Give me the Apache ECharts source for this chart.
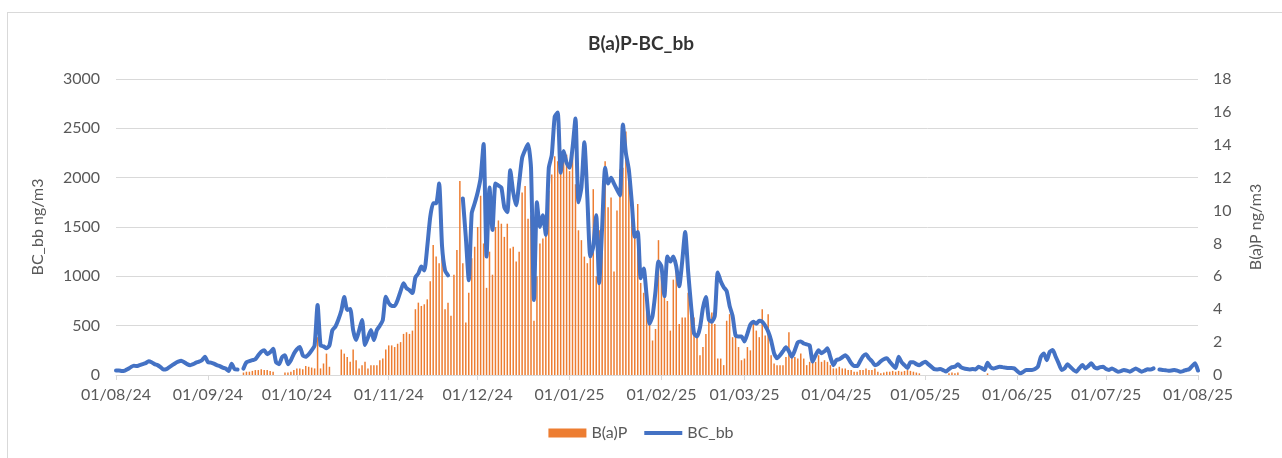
<!DOCTYPE html>
<html>
<head>
<meta charset="utf-8">
<title>B(a)P-BC_bb</title>
<script src="https://cdn.jsdelivr.net/npm/echarts@6/dist/echarts.min.js"></script>
<style>
  html, body { margin: 0; padding: 0; background: #ffffff; overflow: hidden; }
  #frame { position: absolute; left: 7px; top: 12px; width: 1300px; height: 500px; border: 1px solid #d9d9d9; box-sizing: border-box; }
  #chart { position: absolute; left: 0; top: 0; width: 1282px; height: 458px; }
</style>
</head>
<body>
<div id="frame"></div>
<div id="chart"></div>
<script>
// daily values, 01/08/24 .. 01/08/25
// BC_bb ng/m3 (left axis)
const bcAug24 = [45,45,40,45,60,80,95,90,100,110,120,140,130,110,100,80,55,60,80,100,120,135,145,130,110,100,110,125,135,150,185];
const bcSep24 = [130,125,115,100,90,75,65,40,115,60,55,null,65,130,140,150,160,200,235,250,210,230,265,130,110,180,200,110,150,215];
const bcOct24 = [260,285,200,185,210,250,300,710,300,290,270,300,455,490,560,650,790,660,670,455,354,450,557,304,380,455,354,455,500,557,792];
const bcNov24 = [730,700,700,760,850,930,880,860,830,990,1030,1100,1060,1300,1600,1740,1740,1940,1300,1060,1010,null,null,null,null,1790,1400,960,1640,1740];
const bcDec24 = [1850,2000,2340,1200,1900,1470,1940,1920,1900,1700,1650,2074,1850,1720,1950,2200,2280,2340,2100,760,1750,1500,1620,1420,2100,2230,2620,2660,2050,2270,2150];
const bcJan25 = [2100,2300,2600,1750,1900,2360,1800,1200,1300,1620,930,1500,2100,1940,2000,1940,1880,1820,2540,2250,2080,1750,1400,1450,980,1080,800,520,600,850,1150];
const bcFeb25 = [1100,800,1200,1150,1200,1100,900,1150,1450,1050,700,420,390,480,680,790,560,540,600,1040,950,890,850,700,600,400,390,390];
const bcMar25 = [340,420,510,540,520,550,540,500,440,350,220,170,200,240,280,240,185,250,330,340,320,310,300,135,200,250,220,240,270,180,100];
const bcApr25 = [150,160,180,200,170,120,90,90,140,190,210,170,140,100,110,140,160,170,135,100,70,185,130,100,70,130,130,110,100,120];
const bcMay25 = [135,110,85,60,57,60,50,35,60,80,84,110,80,67,60,57,60,57,84,70,51,125,80,67,75,84,80,75,70,70,67];
const bcJun25 = [40,17,30,51,51,51,60,84,185,219,150,236,253,185,118,51,67,110,80,51,34,70,101,67,90,118,80,67,80,84];
const bcJul25 = [60,51,67,50,34,40,51,45,34,50,67,50,34,45,58,55,67,null,55,51,48,44,46,51,45,34,40,51,58,90,118];
const bcAug25 = [45];

// B(a)P ng/m3 (right axis)
const bapAug24 = new Array(31).fill(null);
const bapSep24 = [null,null,null,null,null,null,null,null,null,null,null,null,0.15,0.2,0.2,0.25,0.3,0.3,0.35,0.3,0.3,0.25,0.2,null,null,null,0.15,0.15,0.2,0.3];
const bapOct24 = [0.4,0.4,0.35,0.55,0.5,0.45,0.4,2.3,0.4,0.7,1.3,0.5,null,null,null,1.55,1.3,1.1,0.8,1.55,0.9,0.4,0.6,0.8,0.4,0.6,0.6,0.6,0.9,1.0,1.55];
const bapNov24 = [1.8,1.8,1.7,1.9,2.0,2.5,2.6,2.5,2.7,4.0,4.4,4.2,4.3,4.6,5.7,7.9,7.2,6.8,8.6,4.0,4.4,3.6,6.1,7.6,11.8,6.8,3.2,5.0,7.1,7.8];
const bapDec24 = [9.0,10.9,8.0,5.3,7.5,6.1,9.0,9.4,9.2,8.4,9.2,7.7,7.8,6.9,7.5,11.1,11.5,9.5,9.7,3.3,6.0,8.0,8.3,9.2,11.2,12.2,13.3,13.0,13.5,13.1,13.4];
const bapJan25 = [12.4,14.1,11.6,8.8,8.2,7.2,6.8,7.1,11.3,6.0,8.8,8.6,13.0,10.2,10.8,6.3,10.0,12.5,12.6,14.8,12.4,10.0,8.5,10.4,5.6,5.0,4.5,3.3,2.1,2.8,8.2];
const bapFeb25 = [6.0,5.3,4.5,2.7,5.8,7.0,3.1,3.5,3.5,5.0,4.4,3.5,2.5,1.2,1.7,2.5,3.6,3.8,3.1,1.0,1.0,0.6,3.3,3.7,2.3,2.6,1.7,0.9];
const bapMar25 = [1.0,1.7,1.5,3.1,2.7,2.3,4.0,2.4,3.7,1.2,0.7,0.6,0.6,0.6,1.1,2.6,1.3,1.1,1.0,1.3,1.0,0.6,0.8,0.9,0.8,1.2,0.8,0.9,0.8,0.6,0.4];
const bapApr25 = [0.4,0.5,0.4,0.4,0.3,0.3,0.2,0.2,0.3,0.3,0.4,0.3,0.3,0.4,0.2,0.1,0.15,0.2,0.2,0.25,0.2,0.25,0.2,0.25,0.3,0.25,0.2,0.15,0.1,null];
const bapMay25 = [null,null,null,null,null,null,null,null,0.1,0.15,0.1,0.15,null,null,null,null,null,null,null,null,null,0.1,null,null,null,null,null,null,null,null,null];
const bapJun25 = new Array(30).fill(null);
const bapJul25 = new Array(31).fill(null);
const bapAug25 = [null];

const bcValues = [].concat(bcAug24, bcSep24, bcOct24, bcNov24, bcDec24, bcJan25, bcFeb25, bcMar25, bcApr25, bcMay25, bcJun25, bcJul25, bcAug25);
const bapValues = [].concat(bapAug24, bapSep24, bapOct24, bapNov24, bapDec24, bapJan25, bapFeb25, bapMar25, bapApr25, bapMay25, bapJun25, bapJul25, bapAug25);

// one category per day
const startDay = Date.UTC(2024, 7, 1);
const dayLabels = [];
for (let i = 0; i < bcValues.length; i++) {
  const d = new Date(startDay + i * 86400000);
  const dd = String(d.getUTCDate()).padStart(2, "0");
  const mm = String(d.getUTCMonth() + 1).padStart(2, "0");
  const yy = String(d.getUTCFullYear()).slice(2);
  dayLabels.push(dd + "/" + mm + "/" + yy);
}
const isMonthStart = (idx, value) => value.slice(0, 2) === "01";

const font = "Lato, 'Liberation Sans', sans-serif";
const textGrey = "#595959";

const chart = echarts.init(document.getElementById("chart"), null, { renderer: "canvas" });
chart.setOption({
  animation: false,
  backgroundColor: "transparent",
  title: {
    text: "B(a)P-BC_bb",
    left: "center",
    top: 29,
    textStyle: { fontFamily: font, fontSize: 19, fontWeight: "bold", color: "#333333" }
  },
  legend: {
    bottom: 12,
    left: "center",
    itemGap: 17,
    itemWidth: 38,
    itemHeight: 9,
    textStyle: { fontFamily: font, fontSize: 16, color: textGrey },
    data: [
      { name: "B(a)P", icon: "rect" },
      { name: "BC_bb", icon: "path://M0,0H40V4H0Z" }
    ]
  },
  grid: { left: 116, right: 84, top: 79, bottom: 83 },
  xAxis: {
    type: "category",
    data: dayLabels,
    boundaryGap: false,
    axisLine: { lineStyle: { color: "#d9d9d9", width: 1 } },
    axisTick: { interval: isMonthStart, length: 5, lineStyle: { color: "#d9d9d9" } },
    axisLabel: { interval: isMonthStart, margin: 12, fontFamily: font, fontSize: 16, color: textGrey },
    splitLine: { show: false }
  },
  yAxis: [
    {
      type: "value",
      min: 0,
      max: 3000,
      interval: 500,
      name: "BC_bb ng/m3",
      nameLocation: "middle",
      nameGap: 70,
      nameTextStyle: { fontFamily: font, fontSize: 16, color: textGrey },
      axisLine: { show: false },
      axisTick: { show: false },
      axisLabel: { margin: 16, fontFamily: font, fontSize: 16, color: textGrey, formatter: (v) => String(v) },
      splitLine: { lineStyle: { color: "#d9d9d9", width: 1 } }
    },
    {
      type: "value",
      min: 0,
      max: 18,
      interval: 2,
      name: "B(a)P ng/m3",
      nameLocation: "middle",
      nameGap: 50,
      nameTextStyle: { fontFamily: font, fontSize: 16, color: textGrey },
      axisLine: { show: false },
      axisTick: { show: false },
      axisLabel: { margin: 15, fontFamily: font, fontSize: 16, color: textGrey, formatter: (v) => String(v) },
      splitLine: { show: false }
    }
  ],
  series: [
    {
      name: "B(a)P",
      type: "bar",
      yAxisIndex: 1,
      barWidth: 1.5,
      itemStyle: { color: "#ED7D31" },
      data: bapValues
    },
    {
      name: "BC_bb",
      type: "line",
      yAxisIndex: 0,
      z: 5,
      showSymbol: false,
      connectNulls: false,
      smooth: 0.2,
      itemStyle: { color: "#4472C4" },
      lineStyle: { color: "#4472C4", width: 4, cap: "round", join: "round" },
      data: bcValues
    }
  ]
});
</script>
</body>
</html>
